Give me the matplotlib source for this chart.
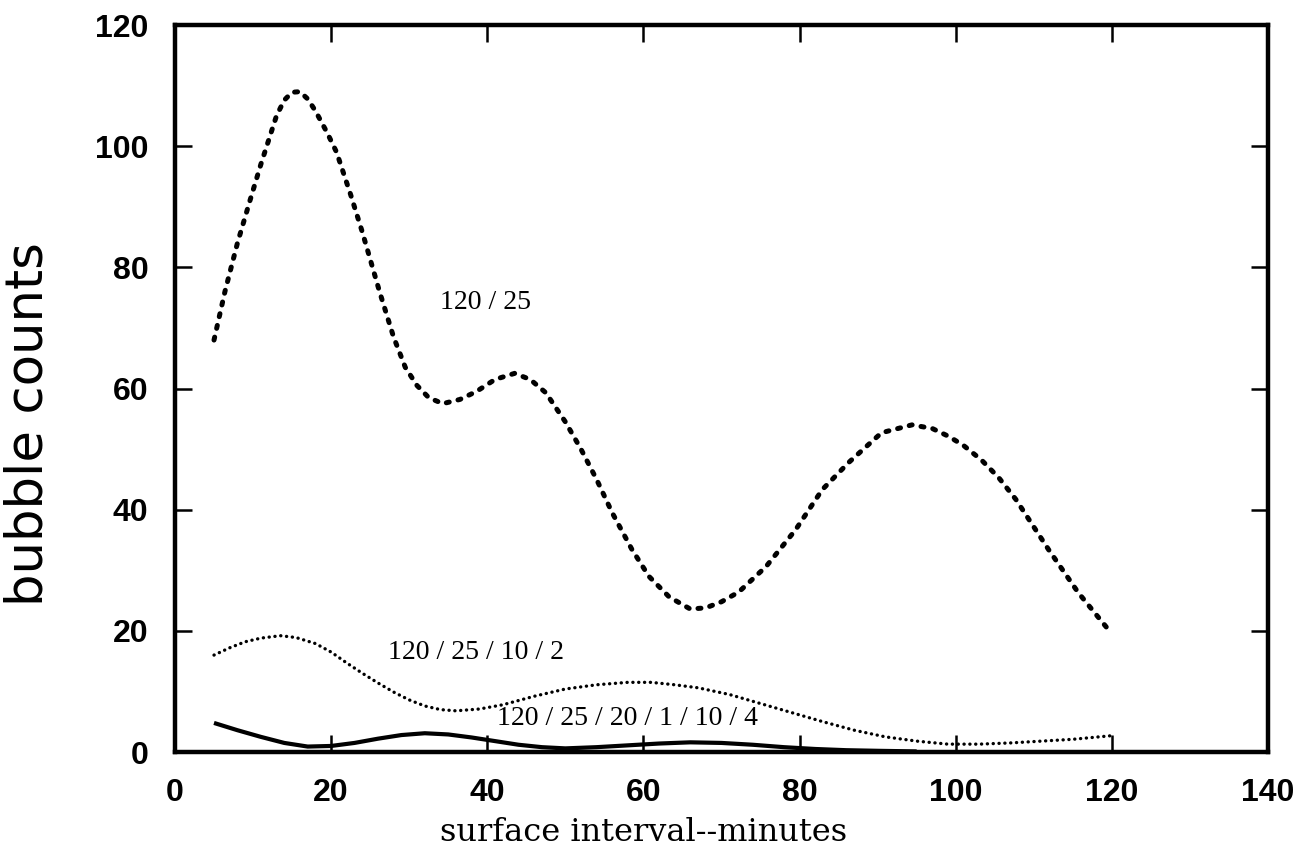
import numpy as np
import matplotlib
matplotlib.use('Agg')
import matplotlib.pyplot as plt

x_a = [5, 6.4, 8, 9.6, 11, 13, 14, 15, 16, 17, 18, 19.5, 20.7, 22.5, 24, 26.2, 28,
       29.5, 31, 32.5, 34.3, 36.5, 38.6, 41, 43.5, 45.5, 47.5, 50, 52, 54, 56, 58.5,
       60.7, 63.3, 66, 68, 70, 72.2, 75.7, 79.5, 82.9, 86.3, 90.5, 94.4, 97, 99.1,
       101, 103.3, 105.5, 107.7, 111.9, 115.7, 120]
y_a = [68, 76, 84, 91, 97, 105, 107.6, 108.9, 109, 107.8, 105.8, 102.2, 99, 92, 85.8,
       76, 68.5, 63.5, 60.5, 58.5, 57.5, 58.2, 59.5, 61.5, 62.5, 61.5, 59.3, 54.5, 50,
       45, 39.5, 33.5, 29, 25.6, 23.6, 23.8, 24.8, 26.4, 30.6, 36.7, 43.3, 47.8, 52.7,
       54, 53.4, 52.1, 50.6, 48.2, 45.3, 41.7, 33.4, 26.3, 19.5]

x_b = [5, 7, 9, 11, 13.5, 15.5, 18, 20, 22, 24, 26, 28, 30, 32, 34, 36, 39, 42, 46,
       50, 54, 58, 61, 64, 67, 71, 75, 79, 83, 87, 91, 95, 99, 103, 107, 111, 115, 120]
y_b = [16, 17.2, 18.2, 18.8, 19.2, 18.9, 17.9, 16.5, 14.7, 13, 11.4, 9.9, 8.6, 7.6,
       7.0, 6.8, 7.1, 7.8, 9.2, 10.4, 11.1, 11.5, 11.5, 11.1, 10.6, 9.5, 8.0, 6.5, 5.0,
       3.6, 2.5, 1.8, 1.3, 1.3, 1.5, 1.8, 2.1, 2.7]

x_c = [5, 8, 11, 14, 17, 20, 23, 26, 29, 32, 35, 38, 41, 44, 47, 50, 54, 58, 62, 66,
       70, 74, 78, 82, 86, 90, 95]
y_c = [4.8, 3.6, 2.5, 1.5, 0.9, 1.0, 1.5, 2.2, 2.8, 3.1, 2.9, 2.4, 1.8, 1.2, 0.8,
       0.6, 0.8, 1.1, 1.4, 1.6, 1.5, 1.2, 0.8, 0.5, 0.3, 0.2, 0.1]

labels = ['120 / 25', '120 / 25 / 10 / 2', '120 / 25 / 20 / 1 / 10 / 4']
label_pos = [(39.8, 74.2), (38.5, 16.5), (58.0, 5.5)]

fig = plt.figure(figsize=(12.98, 8.57), dpi=100)
ax = fig.add_axes([0.1348, 0.1225, 0.8421, 0.8483])

ax.plot(x_a, y_a, color='black', lw=3.6, linestyle=(0, (0.6, 1.8)),
        dash_capstyle='round')
ax.plot(x_b, y_b, color='black', lw=2.4, linestyle=(0, (0.05, 1.7)),
        dash_capstyle='round')
ax.plot(x_c, y_c, color='black', lw=3.0, solid_capstyle='butt')

for txt, (tx, ty) in zip(labels, label_pos):
    ax.text(tx, ty, txt, ha='center', va='center', fontsize=20,
            family='Liberation Serif')

ax.set_xlim(0, 140)
ax.set_ylim(0, 120)
ax.set_xticks(np.arange(0, 141, 20))
ax.set_yticks(np.arange(0, 121, 20))
for s in ax.spines.values():
    s.set_linewidth(3.2)
ax.tick_params(direction='in', length=12, width=1.8, top=True, right=True,
               labelsize=23)
ax.tick_params(axis='x', pad=19)
ax.tick_params(axis='y', pad=19)
for lab in ax.get_xticklabels() + ax.get_yticklabels():
    lab.set_family('Liberation Sans')
    lab.set_weight('bold')

ax.set_xlabel('surface interval--minutes', fontsize=23, family='DejaVu Serif',
              va='center')
ax.xaxis.set_label_coords(0.429, -0.111)
ax.set_ylabel('bubble counts', fontsize=37, family='DejaVu Sans', va='center')
ax.yaxis.set_label_coords(-0.134, 0.451)

fig.savefig('out.png')
